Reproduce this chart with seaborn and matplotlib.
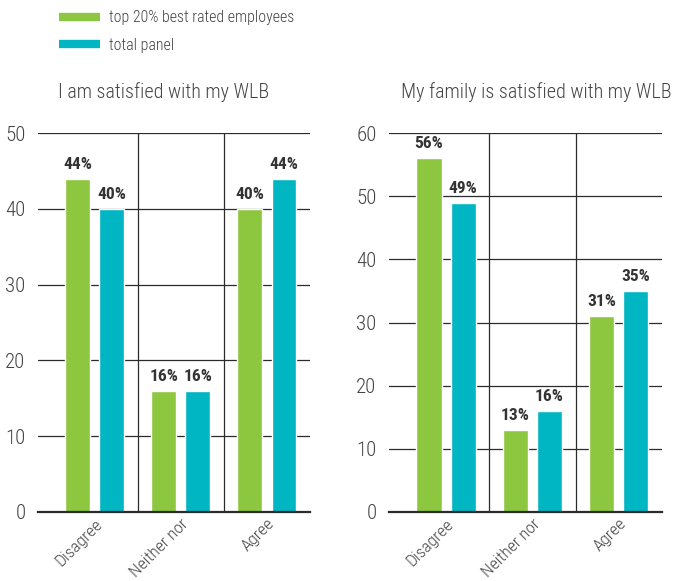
import matplotlib
matplotlib.use("Agg")
import matplotlib.pyplot as plt
from matplotlib.lines import Line2D
import seaborn as sns
import pandas as pd

categories = ["Disagree", "Neither nor", "Agree"]
series_names = ["top 20% best rated employees", "total panel"]
self_top20 = [44, 16, 40]
self_total = [40, 16, 44]
family_top20 = [56, 13, 31]
family_total = [49, 16, 35]
titles = ["I am satisfied with my WLB", "My family is satisfied with my WLB"]
y_limits = [50, 60]

GREEN = "#8DC63F"
TEAL = "#00B6C3"
TEXT = "#444444"
LINE = "#2b2b2b"

sns.set_theme(style="white")
plt.rcParams["font.family"] = ["Roboto Condensed", "DejaVu Sans"]
plt.rcParams["font.weight"] = "light"


def tidy(top, total):
    return pd.DataFrame({
        "category": categories * 2,
        "group": [series_names[0]] * 3 + [series_names[1]] * 3,
        "value": top + total,
    })


panels = [tidy(self_top20, self_total), tidy(family_top20, family_total)]

fig = plt.figure(figsize=(6.74, 5.81), dpi=100)
axes = [fig.add_axes([0.0564, 0.1188, 0.4036, 0.6522]),
        fig.add_axes([0.5772, 0.1188, 0.4050, 0.6522])]

for ax, df, ymax in zip(axes, panels, y_limits):
    sns.barplot(data=df, x="category", y="value", hue="group",
                order=categories, hue_order=series_names,
                palette=[GREEN, TEAL], width=0.79, gap=0.265,
                errorbar=None, legend=False, ax=ax, saturation=1)
    ax.set_xlim(-0.66, 2.5)
    ax.set_ylim(0, ymax)
    ax.set_yticks(range(0, ymax + 1, 10))
    ax.set_xlabel("")
    ax.set_ylabel("")
    for s in ["left", "right", "top"]:
        ax.spines[s].set_visible(False)
    ax.spines["bottom"].set_color(LINE)
    ax.spines["bottom"].set_linewidth(1.6)
    ax.yaxis.grid(True, color=LINE, linewidth=0.9)
    for xb in (0.5, 1.5):
        ax.axvline(xb, color=LINE, linewidth=0.9, zorder=0)
    ax.set_axisbelow(True)
    ax.tick_params(axis="y", length=0, pad=9, labelsize=15, labelcolor=TEXT)
    ax.tick_params(axis="x", length=0, pad=3, labelsize=12.5, labelcolor=TEXT)
    plt.setp(ax.get_xticklabels(), rotation=45, ha="right",
             rotation_mode="anchor", fontweight="light")
    plt.setp(ax.get_yticklabels(), fontweight="light")
    for cont in ax.containers:
        ax.bar_label(cont, labels=[f"{v:.0f}%" for v in cont.datavalues],
                     padding=5, fontsize=12.5, fontweight="bold", color="#333333")

fig.text(164 / 674, 1 - 98 / 581, titles[0], ha="center", va="baseline",
         fontsize=14.5, color=TEXT, fontweight="light")
fig.text(672 / 674, 1 - 98 / 581, titles[1], ha="right", va="baseline",
         fontsize=14.5, color=TEXT, fontweight="light")

handles = [Line2D([0], [0], color=GREEN, linewidth=6, solid_capstyle="butt"),
           Line2D([0], [0], color=TEAL, linewidth=6, solid_capstyle="butt")]
fig.legend(handles, series_names, loc="upper left",
           bbox_to_anchor=(45 / 674, 1 + 4 / 581), frameon=False,
           prop={"size": 11.4, "weight": "light"},
           handlelength=2.55, handletextpad=0.6, labelspacing=0.8,
           labelcolor=TEXT)

fig.savefig("out.png", dpi=100)
